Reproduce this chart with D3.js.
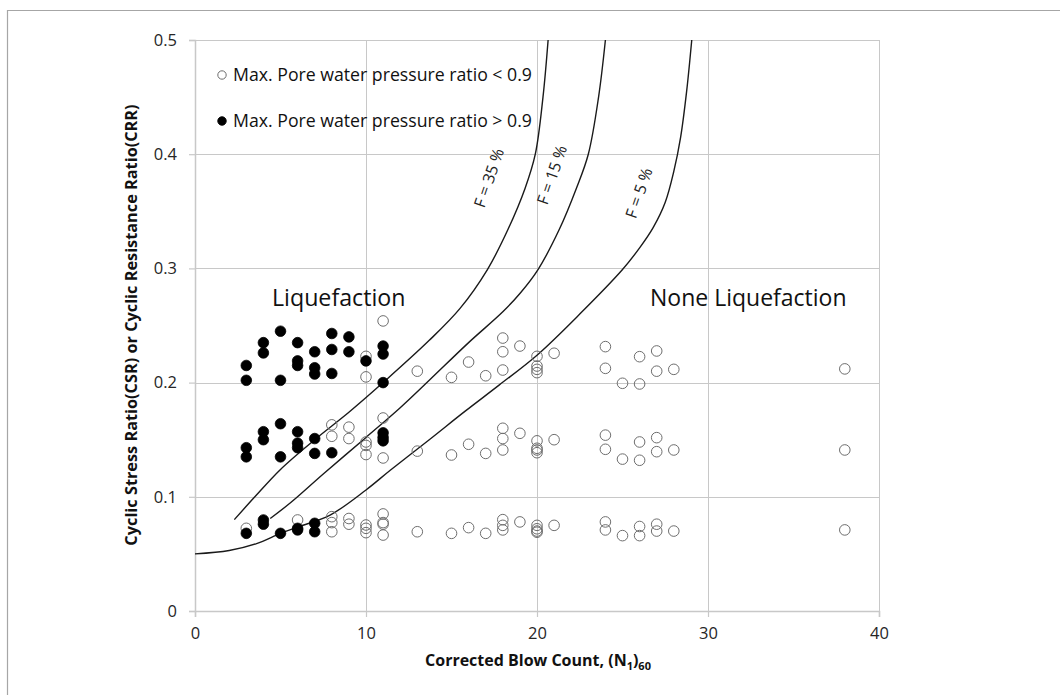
<!DOCTYPE html>
<html>
<head>
<meta charset="utf-8">
<script src="https://cdn.jsdelivr.net/npm/d3@7"></script>
<style>
  html, body { margin: 0; padding: 0; background: #fff; }
  svg { display: block; font-family: "Open Sans", "Noto Sans", sans-serif; }
</style>
</head>
<body>
<svg id="chart" width="1060" height="695"></svg>
<script>
// Tick values
const xTicks = [0, 10, 20, 30, 40];
const yTicks = [0, 0.1, 0.2, 0.3, 0.4, 0.5];

// Tests with max. pore water pressure ratio < 0.9  [N1(60), CSR]
const lowRatioPoints = [
  [3, 0.0724], [6, 0.0797],
  [8, 0.163], [8, 0.153], [8, 0.0826], [8, 0.0774], [8, 0.0694],
  [9, 0.161], [9, 0.151], [9, 0.081], [9, 0.076],
  [10, 0.223], [10, 0.205], [10, 0.148], [10, 0.145], [10, 0.137],
  [10, 0.0753], [10, 0.0724], [10, 0.0686],
  [11, 0.254], [11, 0.169], [11, 0.134],
  [11, 0.085], [11, 0.0774], [11, 0.076], [11, 0.0665],
  [13, 0.210], [13, 0.140], [13, 0.0694],
  [15, 0.2046], [15, 0.1366], [15, 0.068],
  [16, 0.218], [16, 0.146], [16, 0.073],
  [17, 0.206], [17, 0.138], [17, 0.068],
  [18, 0.239], [18, 0.227], [18, 0.211], [18, 0.160], [18, 0.151], [18, 0.141],
  [18, 0.080], [18, 0.075], [18, 0.071],
  [19, 0.232], [19, 0.1556], [19, 0.078],
  [20, 0.223], [20, 0.2145], [20, 0.2116], [20, 0.2087],
  [20, 0.149], [20, 0.1425], [20, 0.141], [20, 0.1386],
  [20, 0.075], [20, 0.072], [20, 0.070], [20, 0.069],
  [21, 0.2257], [21, 0.150], [21, 0.075],
  [24, 0.2315], [24, 0.2125], [24, 0.154], [24, 0.1416], [24, 0.078], [24, 0.071],
  [25, 0.1994], [25, 0.133], [25, 0.066],
  [26, 0.2227], [26, 0.1988], [26, 0.148], [26, 0.132], [26, 0.074], [26, 0.066],
  [27, 0.2277], [27, 0.210], [27, 0.1518], [27, 0.1395], [27, 0.076], [27, 0.070],
  [28, 0.2116], [28, 0.141], [28, 0.070],
  [38, 0.212], [38, 0.141], [38, 0.071]
];

// Tests with max. pore water pressure ratio > 0.9  [N1(60), CSR]
const highRatioPoints = [
  [3, 0.215], [3, 0.202], [3, 0.143], [3, 0.135], [3, 0.068],
  [4, 0.235], [4, 0.226], [4, 0.157], [4, 0.150], [4, 0.0797], [4, 0.076],
  [5, 0.245], [5, 0.202], [5, 0.164], [5, 0.135], [5, 0.068],
  [6, 0.235], [6, 0.219], [6, 0.215], [6, 0.157], [6, 0.147], [6, 0.143], [6, 0.0724], [6, 0.071],
  [7, 0.227], [7, 0.213], [7, 0.2075], [7, 0.151], [7, 0.138], [7, 0.0768], [7, 0.0694],
  [8, 0.243], [8, 0.229], [8, 0.208], [8, 0.1386],
  [9, 0.240], [9, 0.227],
  [10, 0.219],
  [11, 0.232], [11, 0.225], [11, 0.200], [11, 0.156], [11, 0.152], [11, 0.149]
];

// CRR boundary curves for fines content F
const curve35N   = [2.3, 3.5, 5.0, 7.0, 9.0, 11.0, 13.7, 15.5, 17.1, 18.3, 19.3, 19.9, 20.35, 20.65];
const curve35CRR = [0.080, 0.100, 0.124, 0.150, 0.174, 0.200, 0.237, 0.265, 0.299, 0.334, 0.370, 0.400, 0.450, 0.500];
const curve15N   = [4.4, 5.6, 7.5, 10.0, 12.0, 13.7, 16.0, 18.0, 19.0, 20.06, 21.3, 22.3, 23.0, 23.6, 24.0];
const curve15CRR = [0.081, 0.095, 0.120, 0.152, 0.178, 0.202, 0.235, 0.262, 0.278, 0.299, 0.334, 0.370, 0.400, 0.450, 0.500];
const curve5N    = [0, 2.0, 3.6, 5.0, 6.1, 7.9, 10.0, 11.4, 13.7, 15.8, 17.8, 20.0, 22.5, 25.0, 26.0, 26.8, 27.5, 28.0, 28.4, 28.75, 29.05];
const curve5CRR  = [0.050, 0.053, 0.059, 0.068, 0.074, 0.084, 0.106, 0.123, 0.150, 0.175, 0.198, 0.224, 0.260, 0.299, 0.318, 0.336, 0.358, 0.385, 0.415, 0.455, 0.500];

const curveLabels = ["F = 35 %", "F = 15 %", "F = 5 %"];
const legendLabels = ["Max. Pore water pressure ratio < 0.9", "Max. Pore water pressure ratio > 0.9"];
const regionLabels = ["Liquefaction", "None Liquefaction"];

const svg = d3.select("#chart");

const x = d3.scaleLinear().domain([0, 40]).range([195, 879]);
const y = d3.scaleLinear().domain([0, 0.5]).range([611, 40]);

// outer frame
svg.append("path")
  .attr("d", "M7.5,695 L7.5,10.5 L1060,10.5")
  .attr("fill", "none").attr("stroke", "#a6a6a6").attr("stroke-width", 1.2);

const gridColor = "#c8c8c8";

// gridlines
svg.append("g").selectAll("line").data(xTicks.slice(1)).join("line")
  .attr("x1", d => Math.round(x(d)) + 0.5).attr("x2", d => Math.round(x(d)) + 0.5)
  .attr("y1", y(0.5)).attr("y2", y(0))
  .attr("stroke", gridColor).attr("stroke-width", 1);
svg.append("g").selectAll("line").data(yTicks.slice(1)).join("line")
  .attr("x1", x(0)).attr("x2", x(40))
  .attr("y1", d => Math.round(y(d)) + 0.5).attr("y2", d => Math.round(y(d)) + 0.5)
  .attr("stroke", gridColor).attr("stroke-width", 1);

// axes
const yAxis = d3.axisLeft(y).tickValues(yTicks)
  .tickFormat(d => d === 0 ? "0" : d3.format(".1f")(d))
  .tickSize(6).tickPadding(12);
const xAxis = d3.axisBottom(x).tickValues(xTicks)
  .tickFormat(d3.format("d")).tickSize(6).tickPadding(10);

const gy = svg.append("g").attr("transform", `translate(${x(0)},0)`).call(yAxis);
const gx = svg.append("g").attr("transform", `translate(0,${y(0)})`).call(xAxis);
[gy, gx].forEach(g => {
  g.select(".domain").attr("stroke", gridColor).attr("stroke-width", 1.5);
  g.selectAll(".tick line").attr("stroke", gridColor).attr("stroke-width", 1.2);
  g.selectAll(".tick text").attr("fill", "#262626")
    .style("font-family", "'Open Sans', sans-serif").style("font-size", "16.5px");
});

// axis titles
svg.append("text")
  .attr("transform", `translate(137,325) rotate(-90)`)
  .attr("text-anchor", "middle")
  .style("font-size", "16.3px").style("font-weight", "bold").attr("fill", "#111")
  .text("Cyclic Stress Ratio(CSR) or Cyclic Resistance Ratio(CRR)");

const xt = svg.append("text")
  .attr("x", 538).attr("y", 666)
  .attr("text-anchor", "middle")
  .style("font-size", "16px").style("font-weight", "bold").attr("fill", "#111");
xt.append("tspan").text("Corrected Blow Count, (N");
xt.append("tspan").attr("dy", 4).style("font-size", "11px").text("1");
xt.append("tspan").attr("dy", -4).text(")");
xt.append("tspan").attr("dy", 4).style("font-size", "11px").text("60");

// boundary curves
const line = d3.line().x(d => x(d[0])).y(d => y(d[1])).curve(d3.curveCatmullRom.alpha(0.5));
const curves = [
  d3.zip(curve35N, curve35CRR),
  d3.zip(curve15N, curve15CRR),
  d3.zip(curve5N, curve5CRR)
];
svg.append("g").selectAll("path").data(curves).join("path")
  .attr("d", line).attr("fill", "none")
  .attr("stroke", "#1a1a1a").attr("stroke-width", 1.4);

// curve labels
const curveLabelPos = [[489, 178], [552, 175], [639, 193]];
svg.append("g").selectAll("text").data(curveLabels).join("text")
  .attr("transform", (d, i) => `translate(${curveLabelPos[i][0]},${curveLabelPos[i][1]}) rotate(-71)`)
  .attr("text-anchor", "middle").attr("dy", "0.35em")
  .style("font-size", "16px").attr("fill", "#222")
  .text(d => d);

// data points
svg.append("g").selectAll("circle").data(lowRatioPoints).join("circle")
  .attr("cx", d => x(d[0])).attr("cy", d => y(d[1])).attr("r", 5.3)
  .attr("fill", "none").attr("stroke", "#6e6e6e").attr("stroke-width", 1);
svg.append("g").selectAll("circle").data(highRatioPoints).join("circle")
  .attr("cx", d => x(d[0])).attr("cy", d => y(d[1])).attr("r", 5.3)
  .attr("fill", "#000").attr("stroke", "#000").attr("stroke-width", 0.8);

// region labels
svg.append("text").attr("x", 272).attr("y", 306)
  .style("font-size", "23.2px").attr("fill", "#111").text(regionLabels[0]);
svg.append("text").attr("x", 650).attr("y", 306)
  .style("font-size", "23px").attr("fill", "#111").text(regionLabels[1]);

// legend
const legend = svg.append("g");
legendLabels.forEach((t, i) => {
  const ly = 75 + i * 46;
  legend.append("circle").attr("cx", 222).attr("cy", ly).attr("r", 4.2)
    .attr("fill", i === 0 ? "#fff" : "#000")
    .attr("stroke", i === 0 ? "#6e6e6e" : "#000").attr("stroke-width", 1);
  legend.append("text").attr("x", 233).attr("y", ly).attr("dy", "0.35em")
    .style("font-size", "17.7px").attr("fill", "#111").text(t);
});
</script>
</body>
</html>
